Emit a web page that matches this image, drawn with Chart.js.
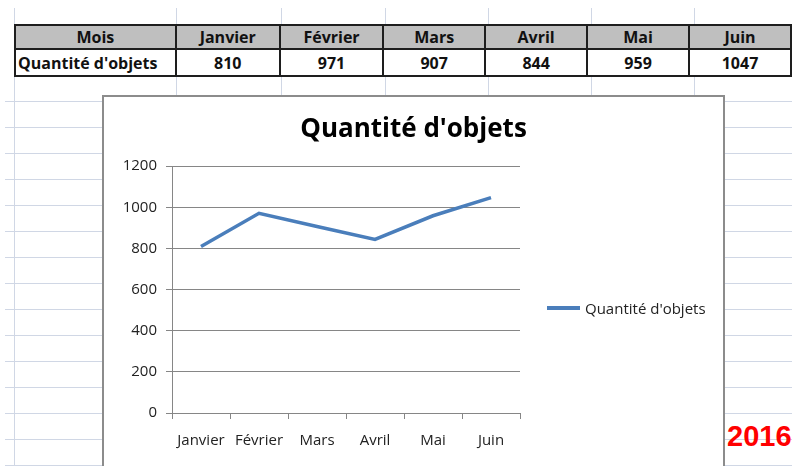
<!DOCTYPE html>
<html>
<head>
<meta charset="utf-8">
<script src="https://cdn.jsdelivr.net/npm/chart.js@4"></script>
<style>
  html, body { margin: 0; padding: 0; }
  body { width: 792px; height: 466px; position: relative; overflow: hidden; background: #fff; font-family: "Open Sans", sans-serif; }
  .rows { position: absolute; left: 5px; top: 76px; width: 787px; height: 390px;
    background-image: repeating-linear-gradient(to bottom, transparent 0, transparent 25px, #d0d7e5 25px, #d0d7e5 26px); }
  .vline { position: absolute; top: 8px; bottom: 0; width: 1px; background: #d0d7e5; }
  table.sheet { position: absolute; left: 14px; top: 24px; border-collapse: collapse; table-layout: fixed; }
  table.sheet td { border: 2px solid #1e1e1e; padding: 0; text-align: center; font-weight: bold; font-size: 16px; line-height: 20px; color: #111; }
  table.sheet tr.head td { background: #bfbfbf; height: 22px; }
  table.sheet tr.body td { background: #fff; height: 25px; }
  table.sheet td.first { text-align: left; padding-left: 2px; }
  .chartbox { position: absolute; left: 102px; top: 95px; width: 619px; height: 424px; border: 2px solid #8c8c8c; background: #fff; }
  .legende { position: absolute; left: 547px; top: 298px; height: 20px; display: flex; align-items: center; font-size: 15px; color: #222; white-space: nowrap; }
  .legende .trait { display: inline-block; width: 33px; height: 3.5px; margin-right: 5px; }
  .year { position: absolute; left: 727px; top: 422px; color: #ff0000; font-family: "Liberation Sans", Arial, sans-serif; font-weight: bold; font-size: 29px; line-height: 1; }
</style>
</head>
<body>
<div class="rows"></div>
<div class="vline" style="left:14px"></div>
<div class="vline" style="left:176px"></div>
<div class="vline" style="left:281px"></div>
<div class="vline" style="left:385px"></div>
<div class="vline" style="left:488px"></div>
<div class="vline" style="left:591px"></div>
<div class="vline" style="left:694px"></div>

<table class="sheet" id="sheet">
  <colgroup>
    <col style="width:162px"><col style="width:105px"><col style="width:104px"><col style="width:103px">
    <col style="width:103px"><col style="width:103px"><col style="width:103px">
  </colgroup>
  <tr class="head" id="headRow"></tr>
  <tr class="body" id="bodyRow"></tr>
</table>

<div class="chartbox"><canvas id="graph" width="619" height="424"></canvas></div>
<div class="legende" id="legende"></div>
<div class="year">2016</div>

<script>
const mois = ["Janvier", "Février", "Mars", "Avril", "Mai", "Juin"];
const quantites = [810, 971, 907, 844, 959, 1047];
const nomSerie = "Quantité d'objets";
const yMin = 0, yMax = 1200, yPas = 200;

// tableau au-dessus du graphique
let headRow = document.querySelector("#headRow");
let bodyRow = document.querySelector("#bodyRow");
headRow.innerHTML = "<td>Mois</td>" + mois.map(m => "<td>" + m + "</td>").join("");
bodyRow.innerHTML = "<td class='first'>" + nomSerie + "</td>" + quantites.map(q => "<td>" + q + "</td>").join("");

const police = "'Open Sans', sans-serif";
const gris = "#868686";
const bleu = "#4a7ebb";

const ctx = document.getElementById("graph").getContext("2d");
const graph = new Chart(ctx, {
  type: "line",
  data: {
    labels: mois,
    datasets: [{
      label: nomSerie,
      data: quantites,
      borderColor: bleu,
      backgroundColor: bleu,
      borderWidth: 3.5,
      pointRadius: 0,
      tension: 0,
      fill: false
    }]
  },
  options: {
    responsive: false,
    animation: false,
    layout: { padding: { left: 0, right: 0, top: 0, bottom: 58 } },
    plugins: {
      title: {
        display: true,
        text: nomSerie,
        color: "#000",
        font: { family: police, size: 26, weight: "bold" },
        padding: { top: 17, bottom: 21 }
      },
      legend: { display: false },
      tooltip: { enabled: false }
    },
    scales: {
      x: {
        offset: true,
        grid: { offset: true, drawOnChartArea: false, drawTicks: true, tickLength: 6, color: gris },
        border: { color: gris },
        ticks: { padding: 13, color: "#222", maxRotation: 0, autoSkip: false, font: { family: police, size: 15 } }
      },
      y: {
        min: yMin,
        max: yMax,
        grid: { color: gris, tickLength: 6 },
        border: { color: gris },
        ticks: { stepSize: yPas, padding: 9, color: "#222", font: { family: police, size: 15 },
                 callback: v => String(v) },
        afterFit: s => { s.width = 68; }
      },
      // place vide à droite pour la légende
      marge: {
        type: "linear",
        position: "right",
        display: true,
        grid: { display: false },
        border: { display: false },
        ticks: { display: false },
        afterFit: s => { s.width = 203; }
      }
    }
  }
});

// légende à droite, à partir de la série
let legende = document.querySelector("#legende");
graph.data.datasets.forEach(ds => {
  legende.innerHTML += "<span class='trait' style='background:" + ds.borderColor + "'></span><span>" + ds.label + "</span>";
});
</script>
</body>
</html>
